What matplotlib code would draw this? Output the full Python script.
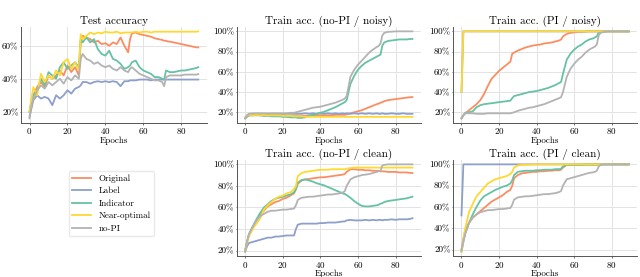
import matplotlib
matplotlib.use("Agg")
import matplotlib.pyplot as plt
from matplotlib.ticker import FuncFormatter

plt.rcParams["font.family"] = "serif"
plt.rcParams["font.serif"] = ["cmr10"]
plt.rcParams["mathtext.fontset"] = "cm"
plt.rcParams["axes.formatter.use_mathtext"] = True

# epochs sampled from the figure
epochs = [0, 1, 2, 4, 6, 8, 10, 12, 14, 16, 18, 20, 22, 24, 26,
          27, 28, 30, 32, 34, 36, 38, 40, 42, 44, 46, 48, 50, 52,
          53, 54, 56, 58, 60, 62, 64, 66, 68, 70, 71, 72,
          73, 74, 76, 78, 80, 82, 84, 86, 88, 89]

methods = ["Original", "Label", "Indicator", "Near-optimal", "no-PI"]
colors = ["#fc8d62", "#8da0cb", "#66c2a5", "#ffd92f", "#b3b3b3"]

# Test accuracy
test_orig = [20, 25, 30, 35, 38, 35, 42, 40, 42, 45, 42, 48, 44, 47, 42,
             63, 66, 65, 64, 62, 63, 61, 61.5, 60, 62, 61, 65, 60, 56,
             64, 67.5, 68, 67, 66.5, 66, 65.5, 64.5, 64, 63.5, 63, 63,
             62.5, 62.5, 62, 61.5, 61, 60.5, 60, 59.5, 59, 59]
test_label = [17, 22, 27, 30, 28, 29, 28, 24, 30, 28, 30, 33, 31, 34, 35,
              36, 38, 38, 37, 38, 38.5, 38, 38.5, 38, 38.5, 38, 35.5, 38.5, 38.5,
              39, 39, 39, 39.5, 39.5, 39.5, 39, 39.5, 39.5, 39.5, 39.5, 39.5,
              39.5, 39.5, 39.5, 39.5, 39.5, 39.5, 39.5, 39.5, 39.5, 39.5]
test_ind = [20, 27, 30, 33, 40, 36, 44, 42, 40, 47, 50, 46, 48, 50, 47,
            64, 62, 65, 62, 64, 58, 55, 54, 57, 52, 51, 49, 46, 47,
            48, 50, 51, 47, 45, 44, 43, 41, 41, 40, 39.5, 45,
            44.5, 44, 44, 44.5, 45, 45, 45.5, 46, 46.5, 47]
test_near = [20, 28, 35, 30, 43, 38, 42, 40, 45, 42, 50, 52, 46, 50, 45,
             67, 64, 66, 68, 67, 68, 67.5, 68.5, 68, 68, 68.5, 67.5, 68, 68,
             68, 68, 68.5, 68, 68.5, 68.5, 68, 68.5, 68.5, 68.5, 68.5, 68.5,
             68.5, 68.5, 68.5, 68.5, 68.5, 68.5, 68.5, 68.5, 68.5, 68.7]
test_nopi = [16, 24, 28, 33, 36, 34, 38, 36, 38, 40, 37, 41, 39, 42, 40,
             52, 55, 52, 51, 49, 50, 48, 47, 48, 46, 45, 47, 45, 44,
             46, 47, 45, 43, 42, 41, 40, 39, 39, 38, 35.5, 41,
             41.5, 42, 42, 42, 42, 42.5, 42.5, 42.5, 42.5, 42.8]

# Train acc. (no-PI / noisy)
nn_orig = [14, 16, 17, 17, 17.5, 17, 17, 17, 17, 17, 17, 17, 16.5, 16.5, 16.5,
           16.5, 16.5, 16.5, 16.5, 16.5, 17, 17, 17, 17, 17, 17, 17.5, 17.5, 17.5,
           17.5, 18, 19, 20, 21, 22, 23.5, 25, 26.5, 28, 28.5, 29.5,
           30, 31, 32, 32.5, 33, 33.5, 34, 34.5, 35, 35]
nn_label = [15, 17, 18.5, 18, 18.5, 18.5, 18.5, 18, 18.5, 18.5, 18.5, 18.5, 18.5, 18.5, 18.5,
            18.5, 18.5, 18.5, 19, 18.5, 19, 18.5, 19, 18.5, 19, 18.5, 19, 18.5, 19,
            18.5, 19, 18.5, 19, 18.5, 19, 18.5, 19, 18.5, 19, 18.5, 18.5,
            19, 18.5, 18.5, 19, 18.5, 18.5, 19, 18.5, 18.5, 18.5]
nn_ind = [14, 15.5, 17, 17, 17, 17, 16.5, 16.5, 16, 16, 16, 15.5, 15.5, 15, 15,
          15, 14.5, 14.5, 15, 16.5, 17.5, 18.5, 19.5, 20.5, 22, 23.5, 25, 27, 29,
          30, 32, 48, 56, 62, 66, 69, 71, 73, 75, 76, 77,
          86, 89, 90.5, 91, 91.5, 92, 92, 92, 92.5, 92.5]
nn_near = [15, 16.5, 17.5, 17, 17.5, 17, 17.5, 17, 17, 17, 17, 16.5, 16.5, 16.5, 16,
           16, 16, 16, 15.5, 15.5, 15.5, 15.5, 15.5, 15.5, 15.5, 15.5, 15.5, 15.5, 15.5,
           15.5, 15.5, 15.5, 15.5, 15.5, 15.5, 15.5, 15.5, 15.5, 15.5, 15.5, 15.5,
           15.5, 15.5, 15.5, 15.5, 15.5, 15.5, 15.5, 15.5, 15.5, 15.5]
nn_nopi = [14, 16.5, 18.5, 19, 19, 19, 19, 19, 19, 19, 19, 19, 19, 19.5, 19.5,
           20, 20.5, 21.5, 22.5, 23.5, 24.5, 25, 25.5, 26.5, 27.5, 28.5, 29.5, 31, 32.5,
           33.5, 36, 55, 62, 67, 71, 75, 79, 82, 84.5, 85.5, 88,
           96, 98.5, 99.5, 99.7, 100, 100, 100, 100, 100, 100]

# Train acc. (PI / noisy)
pn_orig = [14, 17, 19, 22, 25, 28, 32, 38, 46, 53, 57, 61, 64, 67, 70,
           78, 79, 81, 82.5, 84, 85, 86, 86.5, 87, 88, 88.5, 89, 90, 91,
           92, 95, 97.5, 98.5, 99, 99.5, 99.5, 99.7, 100, 100, 100, 100,
           100, 100, 100, 100, 100, 100, 100, 100, 100, 100]
pn_label = [40, 100, 100, 100, 100, 100, 100, 100, 100, 100, 100, 100, 100, 100, 100,
            100, 100, 100, 100, 100, 100, 100, 100, 100, 100, 100, 100, 100, 100,
            100, 100, 100, 100, 100, 100, 100, 100, 100, 100, 100, 100,
            100, 100, 100, 100, 100, 100, 100, 100, 100, 100]
pn_ind = [14, 17, 19.5, 20, 21, 25, 27, 28, 28.5, 29, 29.5, 30, 30.5, 31, 31.5,
          34, 36, 37, 38, 39, 40, 40.5, 41, 42, 43, 44, 45.5, 47, 49,
          50, 58, 72, 78, 82, 85, 87, 90, 92, 93, 94, 95,
          99, 99.5, 99.7, 100, 100, 100, 100, 100, 100, 100]
pn_near = [40, 100, 100, 100, 100, 100, 100, 100, 100, 100, 100, 100, 100, 100, 100,
           100, 100, 100, 100, 100, 100, 100, 100, 100, 100, 100, 100, 100, 100,
           100, 100, 100, 100, 100, 100, 100, 100, 100, 100, 100, 100,
           100, 100, 100, 100, 100, 100, 100, 100, 100, 100]
pn_nopi = [14, 17, 19, 19, 19, 18.5, 18.5, 18.5, 19, 19, 19, 19, 19, 19, 19,
           19.5, 20, 21.5, 22.5, 23.5, 24.5, 25, 26, 27, 28, 29.5, 31, 32.5, 34,
           35, 40, 55, 63, 68, 72, 75, 79, 82, 84, 85, 87,
           96, 98.5, 99.5, 100, 100, 100, 100, 100, 100, 100]

# Train acc. (no-PI / clean)
nc_orig = [20, 28, 35, 42, 48, 53, 57, 61, 63, 65, 66, 68, 69, 71, 73,
           77, 82, 85, 86, 86.5, 87, 87.5, 88, 88, 88.5, 89, 89.5, 90, 90.5,
           91, 93, 95.5, 95.5, 95, 95, 94.5, 94.5, 94, 94, 94, 93.5,
           93.5, 93.5, 93, 93, 93, 92.5, 92.5, 92.5, 92, 92]
nc_label = [19, 24, 27, 28, 29, 30, 31, 32, 32, 33, 33, 33.5, 34, 34, 34,
            40, 44, 45, 45, 45, 45, 45, 45.5, 45.5, 46, 46, 46, 46.5, 47,
            47, 48, 48.5, 48, 48, 48, 48.5, 48, 48.5, 48, 48.5, 48.5,
            48, 48.5, 48.5, 49, 48.5, 49, 49, 49, 49.5, 50]
nc_ind = [20, 28, 35, 42, 49, 55, 60, 63, 66, 68, 69, 70, 71, 72, 74,
          77, 83, 85.5, 86, 85, 84, 82.5, 81.5, 80.5, 79, 77.5, 76, 74.5, 73,
          72.5, 71.5, 69, 66, 63.5, 61.5, 61, 61, 61.5, 62, 62.5, 63.5,
          64, 65, 66, 66.5, 67, 67.5, 68, 68.5, 69.5, 70]
nc_near = [20, 27, 33, 40, 45, 50, 58, 62, 65, 68, 70, 71, 73, 74, 77,
           80, 89, 92, 93, 93.5, 94, 94.5, 95, 95, 95, 95.5, 95.5, 95.5, 95.5,
           95.5, 96, 96.5, 97, 97, 97, 97, 97, 97, 97, 97, 97,
           97, 97, 97, 97, 97, 97, 97, 97, 97, 97]
nc_nopi = [19, 28, 35, 42, 48, 52, 54, 56, 57, 57, 57.5, 58, 58, 58.5, 59,
           62, 67, 69, 69.5, 70, 70, 70.5, 71, 71.5, 72, 72, 72.5, 73, 74,
           75, 80, 86, 88, 89, 90, 90.5, 91, 92, 93, 93.5, 94,
           99, 99.5, 100, 100, 100, 100, 100, 100, 100, 100]

# Train acc. (PI / clean)
pc_orig = [20, 30, 38, 45, 50, 53, 56, 59, 62, 65, 67, 69, 71, 74, 76,
           80, 87, 90, 91.5, 92, 92.5, 93, 93, 93.5, 93.5, 94, 94, 94.5, 94.5,
           95, 97, 99.5, 99.5, 99.7, 99.7, 99.7, 100, 100, 100, 100, 100,
           100, 100, 100, 100, 100, 100, 100, 100, 100, 100]
pc_label = [52, 100, 100, 100, 100, 100, 100, 100, 100, 100, 100, 100, 100, 100, 100,
            100, 100, 100, 100, 100, 100, 100, 100, 100, 100, 100, 100, 100, 100,
            100, 100, 100, 100, 100, 100, 100, 100, 100, 100, 100, 100,
            100, 100, 100, 100, 100, 100, 100, 100, 100, 100]
pc_ind = [18, 27, 35, 45, 53, 60, 66, 70, 72, 74, 76, 77.5, 79, 80, 82,
          85, 90, 93, 93.5, 94, 94, 94, 94.5, 94.5, 95, 95, 95, 95.5, 95.5,
          96, 98, 99.5, 99.5, 99.5, 99.5, 99.5, 99.7, 99.7, 99.7, 99.7, 99.7,
          99.7, 99.7, 100, 100, 100, 100, 100, 100, 100, 100]
pc_near = [18, 30, 40, 55, 63, 70, 74, 78, 82, 84, 86, 87, 88, 89, 91,
           93, 97, 99, 99.5, 99.5, 99.7, 100, 100, 100, 100, 100, 100, 100, 100,
           100, 100, 100, 100, 100, 100, 100, 100, 100, 100, 100, 100,
           100, 100, 100, 100, 100, 100, 100, 100, 100, 100]
pc_nopi = [19, 28, 35, 45, 50, 53, 55, 56, 57, 57, 57.5, 58, 58, 58.5, 59,
           62, 67, 69, 69.5, 70, 70, 70.5, 71, 71.5, 72, 72, 72.5, 73, 74,
           75, 80, 86, 87, 88, 89, 90, 91, 92, 92.5, 93, 94,
           98, 99.5, 100, 100, 100, 100, 100, 100, 100, 100]

panels = [
    ("Test accuracy", [0.033, 0.557, 0.290, 0.3455],
     [test_orig, test_label, test_ind, test_near, test_nopi], [20, 40, 60]),
    ("Train acc. (no-PI / noisy)", [0.370, 0.557, 0.2875, 0.3455],
     [nn_orig, nn_label, nn_ind, nn_near, nn_nopi], [20, 40, 60, 80, 100]),
    ("Train acc. (PI / noisy)", [0.708, 0.557, 0.2875, 0.3455],
     [pn_orig, pn_label, pn_ind, pn_near, pn_nopi], [20, 40, 60, 80, 100]),
    ("Train acc. (no-PI / clean)", [0.370, 0.0758, 0.2875, 0.3466],
     [nc_orig, nc_label, nc_ind, nc_near, nc_nopi], [20, 40, 60, 80, 100]),
    ("Train acc. (PI / clean)", [0.708, 0.0758, 0.2875, 0.3466],
     [pc_orig, pc_label, pc_ind, pc_near, pc_nopi], [20, 40, 60, 80, 100]),
]

fig = plt.figure(figsize=(6.4, 2.77), dpi=100)

for title, rect, series, yticks in panels:
    ax = fig.add_axes(rect)
    for vals, name, c in zip(series, methods, colors):
        ax.plot(epochs, vals, color=c, lw=1.3, label=name)
    ax.set_title(title, fontsize=8, pad=2)
    ax.set_xlabel("Epochs", fontsize=6.5, labelpad=0)
    ax.set_xticks([0, 20, 40, 60, 80])
    ax.set_yticks(yticks)
    ax.yaxis.set_major_formatter(FuncFormatter(lambda v, p: "%d%%" % v))
    ax.tick_params(labelsize=6.5, width=0.6, color="#555555")
    ax.tick_params(axis="x", length=1.5, pad=1.2)
    ax.tick_params(axis="y", length=1, pad=0.8)
    ax.grid(color="#e3e3e3", lw=0.7)
    ax.set_axisbelow(True)
    for s in ["top", "right"]:
        ax.spines[s].set_visible(False)
    for s in ["left", "bottom"]:
        ax.spines[s].set_color("#555555")
        ax.spines[s].set_linewidth(0.7)

handles, labels = ax.get_legend_handles_labels()
fig.legend(handles, labels, loc="center", bbox_to_anchor=(0.174, 0.265),
           fontsize=6.5, frameon=True, edgecolor="#e5e5e5", labelspacing=0.45,
           handlelength=2.1)

fig.savefig("out.png", dpi=100)
